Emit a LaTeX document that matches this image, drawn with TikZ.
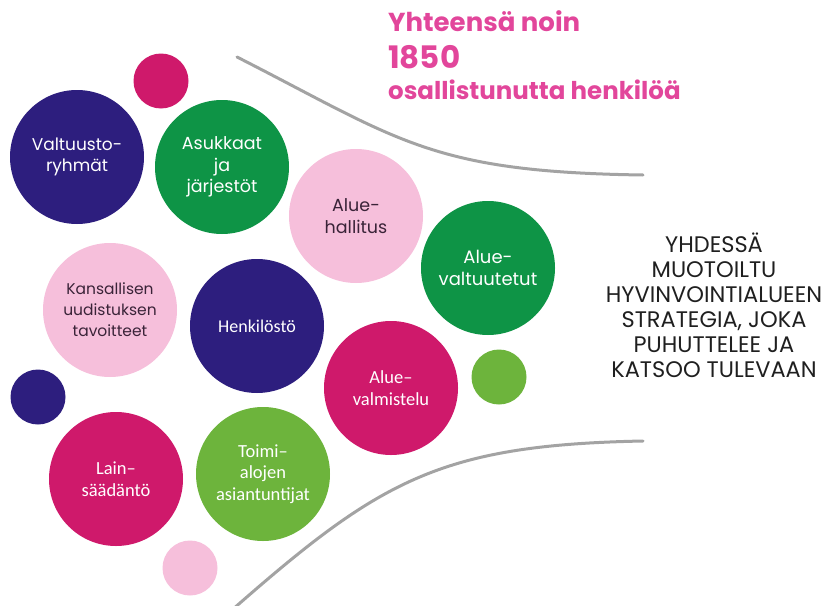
\documentclass[tikz,border=0pt]{standalone}
\usepackage{fontspec}
\setmainfont{Poppins}
\newfontfamily\calfont{Carlito}
\usetikzlibrary{positioning}
\definecolor{navy}{HTML}{2D1E7E}
\definecolor{dgreen}{HTML}{0E9446}
\definecolor{lpink}{HTML}{F6BFDB}
\definecolor{magenta}{HTML}{CF196B}
\definecolor{lime}{HTML}{6DB43C}
\definecolor{titlepink}{HTML}{E2469B}
\definecolor{darktext}{HTML}{3A2338}
\definecolor{funnelgray}{HTML}{A3A3A3}
\tikzset{%
  c/.style = {circle,draw=none,inner sep=0pt,align=center,
        font=\fontsize{17.5}{21.5}\selectfont},
  big/.style = {minimum size=134pt},
  dot/.style = {minimum size=55pt},
  navyc/.style = {c,fill=navy,text=white},
  greenc/.style = {c,fill=dgreen,text=white},
  pinkc/.style = {c,fill=lpink,text=darktext},
  magc/.style = {c,fill=magenta,text=white},
  limec/.style = {c,fill=lime,text=white},
  cal/.style = {font=\calfont\fontsize{18.5}{21.5}\selectfont},
  funnel/.style = {draw=funnelgray,line width=3pt,line cap=round},
  total/.style = {anchor=base west,inner sep=0pt,text=titlepink}
}
\begin{document}
\begin{tikzpicture}[x=1pt,y=-1pt]
\useasboundingbox (0,0) rectangle (824,605);

\node[total,font=\bfseries\fontsize{26}{28}\selectfont] (sum1) at (388,31) {Yhteensä noin};
\node[total,font=\bfseries\fontsize{31}{36}\selectfont] (sum2) at (388,68) {1850};
\node[total,font=\bfseries\fontsize{24.5}{28}\selectfont] (sum3) at (388,99) {osallistunutta henkilöä};

\draw[funnel] (237,57) .. controls (400,140) and (430,172) .. (643,175);
\draw[funnel] (232,610) .. controls (380,480) and (440,445) .. (643,441);

\node[magc,dot] (m1) at (161,81) {};
\node[navyc,big,font=\fontsize{17}{21.5}\selectfont] (valt) at (77,157) {Valtuusto-\\ryhmät};
\node[greenc,big] (asuk) at (222,167) {Asukkaat\\ja\\järjestöt};
\node[pinkc,big] (hall) at (356,216) {Alue-\\hallitus};
\node[greenc,big,font=\fontsize{18}{21.5}\selectfont] (valtuut) at (488,268) {Alue-\\valtuutetut};
\node[pinkc,big,font=\fontsize{15.5}{21}\selectfont] (kans) at (110,310) {Kansallisen\\uudistuksen\\tavoitteet};
\node[navyc,big,font=\calfont\fontsize{18}{21}\selectfont] (henk) at (257,326) {Henkilöstö};
\node[magc,big,cal] (valm) at (391,388) {Alue–\\valmistelu};
\node[limec,dot] (l1) at (499,377) {};
\node[navyc,dot] (n1) at (38,397) {};
\node[magc,big,cal] (lain) at (116,479) {Lain–\\säädäntö};
\node[limec,big,cal] (toimi) at (263,474) {Toimi–\\alojen\\asiantuntijat};
\node[pinkc,dot] (p1) at (190,568) {};

\node[align=center,text=black!88,font=\fontsize{22.5}{25}\selectfont] (goal) at (714,305)
  {YHDESSÄ\\MUOTOILTU\\HYVINVOINTIALUEEN\\STRATEGIA, JOKA\\PUHUTTELEE JA\\KATSOO TULEVAAN};
\end{tikzpicture}
\end{document}
